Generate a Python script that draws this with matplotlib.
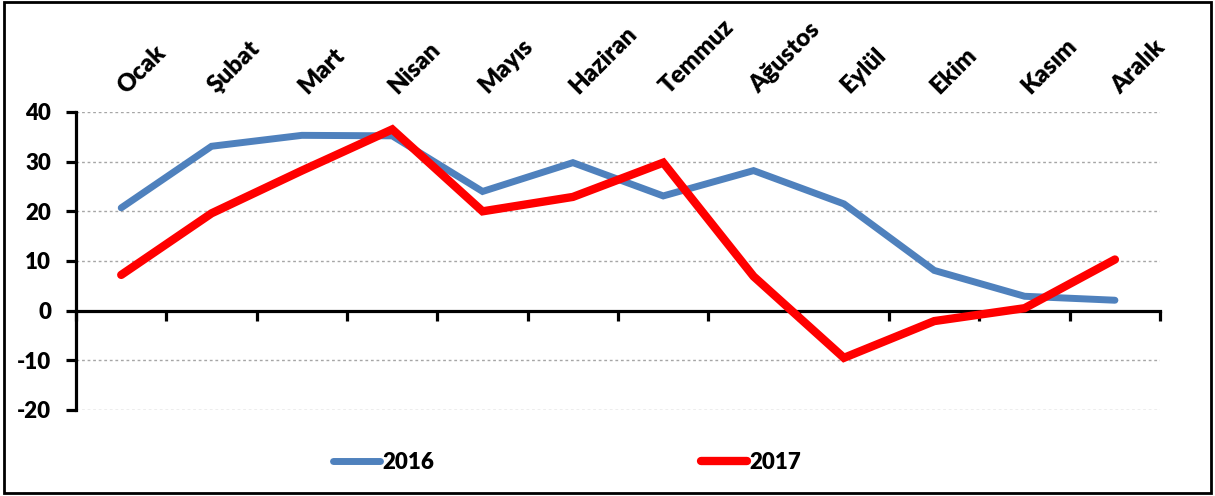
import numpy as np
import matplotlib.pyplot as plt
from matplotlib.patches import Rectangle
from matplotlib.transforms import ScaledTranslation

plt.rcParams['font.family'] = ['Lato', 'DejaVu Sans']
plt.rcParams['font.weight'] = 'heavy'

months = ['Ocak', 'Şubat', 'Mart', 'Nisan', 'Mayıs', 'Haziran',
          'Temmuz', 'Ağustos', 'Eylül', 'Ekim', 'Kasım', 'Aralık']
vals_2016 = [20.7, 33.1, 35.3, 35.2, 24.0, 29.8, 23.1, 28.2, 21.5, 8.1, 2.9, 2.1]
vals_2017 = [7.2, 19.6, 28.2, 36.5, 20.0, 22.9, 29.8, 6.9, -9.5, -2.1, 0.5, 10.3]
yticks = [-20, -10, 0, 10, 20, 30, 40]

fig = plt.figure(figsize=(12.15, 4.96), dpi=100)
ax = fig.add_axes([0.0626, 0.1734, 0.8922, 0.6008])

x = np.arange(len(months))

# dotted grid lines (not at zero, the axis sits there)
for yv in yticks:
    if yv != 0:
        ax.axhline(yv, color='#a6a6a6', linestyle=(0, (2, 2)), linewidth=1, zorder=1)

ax.plot(x, vals_2016, color='#4f81bd', linewidth=5.0, solid_capstyle='round',
        solid_joinstyle='miter', label='2016', zorder=3)
ax.plot(x, vals_2017, color='#ff0000', linewidth=6.0, solid_capstyle='round',
        solid_joinstyle='miter', label='2017', zorder=4)

ax.set_xlim(-0.5, 11.5)
ax.set_ylim(-20, 40)

ax.spines['top'].set_visible(False)
ax.spines['right'].set_visible(False)
ax.spines['bottom'].set_position(('data', 0))
ax.spines['bottom'].set_linewidth(2.3)
ax.spines['left'].set_linewidth(2.3)
ax.spines['bottom'].set_zorder(2)

ax.set_yticks(yticks)
ax.set_yticklabels([str(v) for v in yticks], fontsize=16, fontweight='heavy')
ax.tick_params(axis='y', direction='out', length=7, width=2.3, pad=11)

# month labels on top, tick marks between categories on the zero line
ax.set_xticks(x)
ax.set_xticklabels(months, rotation=45, ha='left', rotation_mode='anchor',
                   fontsize=17.5, fontweight='heavy')
ax.tick_params(axis='x', which='major', length=0, labeltop=True, labelbottom=False,
               top=False, bottom=False, pad=12)
shift = ScaledTranslation(0.08, -0.02, fig.dpi_scale_trans)
for lbl in ax.get_xticklabels():
    lbl.set_transform(lbl.get_transform() + shift)
ax.set_xticks(np.arange(-0.5, 12, 1), minor=True)
ax.tick_params(axis='x', which='minor', direction='out', length=7, width=2.3,
               bottom=True, top=False)

leg = fig.legend(loc='center', bbox_to_anchor=(0.467, 0.067), ncol=2, frameon=False,
                 handlelength=2.1, handletextpad=0.1, columnspacing=12.0,
                 prop={'size': 16, 'weight': 'heavy'})

fig.patches.append(Rectangle((0.003, 0.006), 0.994, 0.99, transform=fig.transFigure,
                             fill=False, edgecolor='black', linewidth=2))

fig.savefig('out.png', dpi=100)
